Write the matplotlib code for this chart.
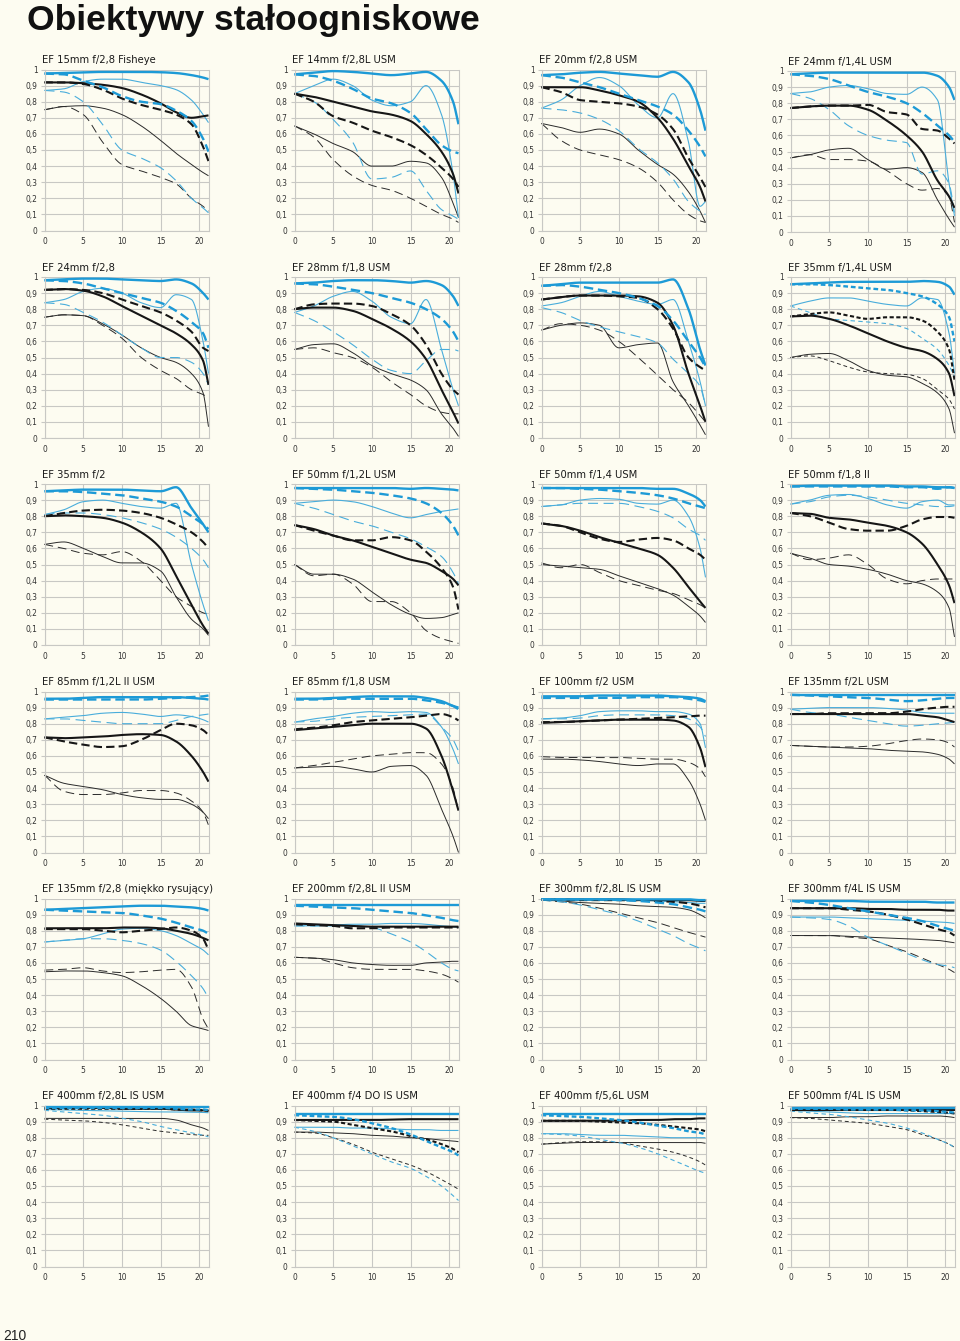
import numpy as np
import matplotlib
matplotlib.use('Agg')
import matplotlib.pyplot as plt
from matplotlib import font_manager

# image height positions (mm from centre) where the curves were read
X = [0, 2.5, 5, 7.5, 10, 12.5, 15, 17, 19, 20.5, 21.2]

# order in every lens list:
# blue 10 S, blue 10 M, blue 30 S, blue 30 M, black 10 S, black 10 M, black 30 S, black 30 M
ef15_28 = [
    [0.975, 0.978, 0.982, 0.985, 0.985, 0.985, 0.983, 0.978, 0.965, 0.95, 0.94],
    [0.975, 0.97, 0.93, 0.89, 0.835, 0.80, 0.785, 0.745, 0.68, 0.57, 0.49],
    [0.87, 0.88, 0.925, 0.94, 0.94, 0.92, 0.90, 0.875, 0.81, 0.72, 0.67],
    [0.87, 0.86, 0.80, 0.66, 0.50, 0.45, 0.39, 0.31, 0.20, 0.14, 0.11],
    [0.92, 0.92, 0.915, 0.905, 0.885, 0.845, 0.79, 0.735, 0.70, 0.71, 0.715],
    [0.92, 0.92, 0.91, 0.875, 0.82, 0.78, 0.75, 0.72, 0.66, 0.52, 0.43],
    [0.75, 0.77, 0.775, 0.76, 0.72, 0.65, 0.56, 0.48, 0.41, 0.36, 0.34],
    [0.75, 0.77, 0.72, 0.55, 0.41, 0.37, 0.33, 0.29, 0.20, 0.15, 0.12],
]
ef14_28 = [
    [0.97, 0.98, 0.99, 0.985, 0.975, 0.965, 0.975, 0.985, 0.93, 0.80, 0.66],
    [0.97, 0.96, 0.93, 0.88, 0.82, 0.79, 0.73, 0.63, 0.53, 0.49, 0.48],
    [0.85, 0.90, 0.94, 0.90, 0.81, 0.775, 0.80, 0.90, 0.72, 0.35, 0.08],
    [0.85, 0.80, 0.69, 0.55, 0.32, 0.33, 0.37, 0.25, 0.13, 0.09, 0.07],
    [0.85, 0.83, 0.80, 0.77, 0.74, 0.72, 0.68, 0.60, 0.49, 0.35, 0.23],
    [0.85, 0.80, 0.71, 0.67, 0.62, 0.58, 0.53, 0.47, 0.39, 0.32, 0.27],
    [0.65, 0.60, 0.54, 0.49, 0.40, 0.40, 0.43, 0.42, 0.33, 0.17, 0.08],
    [0.65, 0.58, 0.44, 0.34, 0.28, 0.25, 0.20, 0.15, 0.10, 0.07, 0.05],
]
ef20_28 = [
    [0.965, 0.97, 0.98, 0.985, 0.975, 0.965, 0.955, 0.985, 0.92, 0.75, 0.62],
    [0.965, 0.95, 0.92, 0.89, 0.85, 0.81, 0.77, 0.72, 0.62, 0.52, 0.46],
    [0.76, 0.81, 0.90, 0.95, 0.90, 0.78, 0.70, 0.85, 0.55, 0.15, 0.18],
    [0.76, 0.75, 0.73, 0.69, 0.62, 0.51, 0.42, 0.32, 0.18, 0.12, 0.10],
    [0.89, 0.89, 0.89, 0.87, 0.84, 0.80, 0.70, 0.57, 0.40, 0.27, 0.18],
    [0.89, 0.86, 0.81, 0.80, 0.79, 0.77, 0.72, 0.63, 0.45, 0.33, 0.27],
    [0.665, 0.64, 0.61, 0.63, 0.60, 0.50, 0.41, 0.35, 0.24, 0.12, 0.05],
    [0.665, 0.56, 0.50, 0.47, 0.44, 0.39, 0.30, 0.19, 0.10, 0.06, 0.05],
]
ef24_14 = [
    [0.98, 0.985, 0.99, 0.99, 0.99, 0.99, 0.99, 0.99, 0.97, 0.90, 0.82],
    [0.98, 0.97, 0.95, 0.91, 0.87, 0.84, 0.80, 0.74, 0.66, 0.60, 0.56],
    [0.86, 0.87, 0.90, 0.91, 0.89, 0.86, 0.855, 0.90, 0.82, 0.30, 0.10],
    [0.86, 0.83, 0.76, 0.66, 0.60, 0.57, 0.555, 0.36, 0.38, 0.30, 0.12],
    [0.77, 0.78, 0.785, 0.785, 0.76, 0.69, 0.60, 0.50, 0.32, 0.22, 0.15],
    [0.77, 0.78, 0.785, 0.785, 0.79, 0.745, 0.73, 0.64, 0.63, 0.58, 0.55],
    [0.46, 0.48, 0.51, 0.52, 0.45, 0.39, 0.40, 0.37, 0.20, 0.08, 0.03],
    [0.46, 0.48, 0.45, 0.45, 0.44, 0.38, 0.30, 0.26, 0.27, 0.22, 0.06],
]
ef24_28 = [
    [0.98, 0.985, 0.99, 0.99, 0.985, 0.98, 0.975, 0.985, 0.96, 0.90, 0.86],
    [0.98, 0.975, 0.96, 0.93, 0.90, 0.87, 0.84, 0.79, 0.72, 0.65, 0.56],
    [0.84, 0.86, 0.91, 0.93, 0.90, 0.84, 0.81, 0.89, 0.86, 0.60, 0.40],
    [0.84, 0.83, 0.78, 0.72, 0.64, 0.56, 0.50, 0.50, 0.47, 0.40, 0.33],
    [0.92, 0.925, 0.915, 0.88, 0.82, 0.76, 0.70, 0.65, 0.58, 0.48, 0.33],
    [0.92, 0.925, 0.92, 0.90, 0.86, 0.82, 0.78, 0.73, 0.66, 0.56, 0.54],
    [0.75, 0.765, 0.76, 0.71, 0.64, 0.56, 0.50, 0.47, 0.40, 0.28, 0.07],
    [0.75, 0.765, 0.76, 0.70, 0.62, 0.50, 0.42, 0.37, 0.30, 0.27, 0.25],
]
ef28_18 = [
    [0.96, 0.965, 0.975, 0.98, 0.98, 0.975, 0.965, 0.975, 0.95, 0.88, 0.82],
    [0.96, 0.955, 0.94, 0.92, 0.90, 0.87, 0.84, 0.80, 0.74, 0.66, 0.60],
    [0.78, 0.82, 0.88, 0.91, 0.85, 0.75, 0.71, 0.86, 0.55, 0.30, 0.20],
    [0.78, 0.73, 0.66, 0.58, 0.49, 0.42, 0.40, 0.48, 0.55, 0.55, 0.54],
    [0.80, 0.81, 0.81, 0.79, 0.74, 0.68, 0.60, 0.49, 0.30, 0.16, 0.09],
    [0.80, 0.83, 0.835, 0.835, 0.82, 0.77, 0.70, 0.58, 0.40, 0.30, 0.27],
    [0.55, 0.58, 0.585, 0.53, 0.45, 0.40, 0.36, 0.30, 0.15, 0.06, 0.01],
    [0.55, 0.56, 0.53, 0.50, 0.44, 0.35, 0.27, 0.20, 0.16, 0.15, 0.15],
]
ef28_28 = [
    [0.945, 0.955, 0.965, 0.965, 0.965, 0.965, 0.965, 0.985, 0.80, 0.55, 0.45],
    [0.945, 0.95, 0.94, 0.92, 0.90, 0.87, 0.82, 0.73, 0.60, 0.50, 0.44],
    [0.82, 0.84, 0.88, 0.91, 0.88, 0.85, 0.83, 0.86, 0.60, 0.35, 0.20],
    [0.81, 0.78, 0.73, 0.69, 0.66, 0.63, 0.59, 0.49, 0.40, 0.32, 0.20],
    [0.86, 0.875, 0.885, 0.885, 0.885, 0.88, 0.84, 0.70, 0.40, 0.20, 0.10],
    [0.86, 0.875, 0.885, 0.885, 0.88, 0.87, 0.80, 0.68, 0.50, 0.44, 0.42],
    [0.67, 0.70, 0.715, 0.70, 0.56, 0.58, 0.59, 0.35, 0.20, 0.08, 0.02],
    [0.67, 0.71, 0.70, 0.67, 0.60, 0.50, 0.39, 0.30, 0.22, 0.14, 0.10],
]
ef35_14 = [
    [0.955, 0.96, 0.965, 0.97, 0.97, 0.97, 0.97, 0.975, 0.97, 0.94, 0.89],
    [0.955, 0.955, 0.95, 0.94, 0.93, 0.92, 0.90, 0.88, 0.83, 0.75, 0.60],
    [0.82, 0.85, 0.87, 0.87, 0.85, 0.83, 0.82, 0.87, 0.86, 0.65, 0.40],
    [0.82, 0.78, 0.74, 0.73, 0.72, 0.71, 0.68, 0.62, 0.55, 0.45, 0.38],
    [0.755, 0.76, 0.74, 0.70, 0.65, 0.60, 0.56, 0.54, 0.49, 0.40, 0.26],
    [0.755, 0.77, 0.78, 0.76, 0.74, 0.75, 0.75, 0.73, 0.66, 0.55, 0.36],
    [0.50, 0.52, 0.525, 0.48, 0.42, 0.39, 0.38, 0.34, 0.28, 0.18, 0.03],
    [0.50, 0.51, 0.48, 0.44, 0.41, 0.40, 0.395, 0.37, 0.30, 0.24, 0.18],
]
ef35_2 = [
    [0.955, 0.96, 0.965, 0.965, 0.965, 0.96, 0.955, 0.98, 0.85, 0.75, 0.70],
    [0.955, 0.955, 0.95, 0.94, 0.93, 0.91, 0.89, 0.86, 0.80, 0.75, 0.72],
    [0.81, 0.84, 0.89, 0.90, 0.88, 0.86, 0.85, 0.88, 0.50, 0.25, 0.15],
    [0.81, 0.82, 0.82, 0.81, 0.79, 0.76, 0.72, 0.67, 0.60, 0.53, 0.48],
    [0.80, 0.805, 0.80, 0.79, 0.76, 0.70, 0.60, 0.43, 0.25, 0.12, 0.07],
    [0.80, 0.82, 0.835, 0.84, 0.835, 0.82, 0.79, 0.75, 0.70, 0.64, 0.60],
    [0.625, 0.64, 0.60, 0.55, 0.51, 0.51, 0.46, 0.30, 0.16, 0.10, 0.06],
    [0.625, 0.60, 0.57, 0.56, 0.58, 0.52, 0.40, 0.30, 0.24, 0.20, 0.19],
]
ef50_12 = [
    [0.975, 0.975, 0.975, 0.975, 0.975, 0.975, 0.97, 0.975, 0.97, 0.965, 0.96],
    [0.975, 0.97, 0.965, 0.955, 0.945, 0.93, 0.91, 0.88, 0.82, 0.74, 0.68],
    [0.88, 0.89, 0.90, 0.89, 0.86, 0.82, 0.79, 0.81, 0.83, 0.84, 0.845],
    [0.88, 0.85, 0.81, 0.77, 0.74, 0.70, 0.66, 0.61, 0.55, 0.45, 0.38],
    [0.745, 0.72, 0.68, 0.65, 0.61, 0.57, 0.53, 0.51, 0.46, 0.41, 0.37],
    [0.745, 0.71, 0.68, 0.65, 0.65, 0.67, 0.65, 0.58, 0.48, 0.36, 0.22],
    [0.50, 0.44, 0.44, 0.41, 0.33, 0.25, 0.19, 0.165, 0.17, 0.19, 0.20],
    [0.50, 0.43, 0.44, 0.38, 0.27, 0.27, 0.20, 0.09, 0.04, 0.02, 0.01],
]
ef50_14 = [
    [0.975, 0.975, 0.975, 0.975, 0.975, 0.975, 0.97, 0.97, 0.94, 0.90, 0.86],
    [0.975, 0.975, 0.97, 0.965, 0.955, 0.945, 0.93, 0.91, 0.88, 0.86, 0.85],
    [0.86, 0.87, 0.90, 0.91, 0.905, 0.88, 0.875, 0.90, 0.80, 0.60, 0.42],
    [0.86, 0.87, 0.88, 0.88, 0.88, 0.86, 0.83, 0.79, 0.72, 0.68, 0.65],
    [0.755, 0.74, 0.71, 0.67, 0.635, 0.60, 0.56, 0.48, 0.36, 0.27, 0.23],
    [0.755, 0.74, 0.70, 0.66, 0.64, 0.655, 0.665, 0.65, 0.60, 0.56, 0.53],
    [0.50, 0.49, 0.48, 0.47, 0.43, 0.39, 0.35, 0.31, 0.24, 0.18, 0.14],
    [0.51, 0.48, 0.50, 0.45, 0.40, 0.37, 0.34, 0.32, 0.28, 0.25, 0.23],
]
ef50_18 = [
    [0.985, 0.99, 0.99, 0.99, 0.99, 0.99, 0.985, 0.985, 0.98, 0.98, 0.975],
    [0.985, 0.985, 0.985, 0.985, 0.985, 0.985, 0.98, 0.98, 0.97, 0.98, 0.975],
    [0.875, 0.90, 0.93, 0.935, 0.91, 0.87, 0.85, 0.89, 0.90, 0.87, 0.87],
    [0.875, 0.89, 0.92, 0.93, 0.92, 0.90, 0.88, 0.87, 0.86, 0.86, 0.865],
    [0.82, 0.815, 0.79, 0.78, 0.76, 0.74, 0.70, 0.63, 0.50, 0.37, 0.26],
    [0.82, 0.80, 0.76, 0.72, 0.71, 0.71, 0.74, 0.78, 0.795, 0.795, 0.79],
    [0.57, 0.54, 0.50, 0.49, 0.47, 0.44, 0.40, 0.38, 0.33, 0.23, 0.05],
    [0.57, 0.53, 0.54, 0.56, 0.50, 0.41, 0.38, 0.40, 0.41, 0.41, 0.41],
]
ef85_12 = [
    [0.955, 0.955, 0.96, 0.965, 0.965, 0.965, 0.965, 0.965, 0.96, 0.955, 0.95],
    [0.95, 0.95, 0.95, 0.95, 0.95, 0.95, 0.955, 0.96, 0.965, 0.97, 0.975],
    [0.83, 0.84, 0.85, 0.865, 0.87, 0.86, 0.845, 0.855, 0.845, 0.825, 0.81],
    [0.83, 0.83, 0.82, 0.81, 0.80, 0.80, 0.80, 0.82, 0.845, 0.855, 0.86],
    [0.715, 0.71, 0.715, 0.72, 0.73, 0.735, 0.73, 0.69, 0.60, 0.50, 0.44],
    [0.715, 0.69, 0.67, 0.655, 0.66, 0.70, 0.76, 0.80, 0.79, 0.76, 0.73],
    [0.48, 0.43, 0.41, 0.39, 0.36, 0.34, 0.33, 0.33, 0.30, 0.25, 0.21],
    [0.48, 0.38, 0.36, 0.36, 0.37, 0.385, 0.385, 0.37, 0.32, 0.25, 0.17],
]
ef85_18 = [
    [0.955, 0.955, 0.96, 0.965, 0.97, 0.97, 0.97, 0.96, 0.94, 0.91, 0.90],
    [0.95, 0.95, 0.955, 0.955, 0.955, 0.955, 0.955, 0.945, 0.93, 0.91, 0.89],
    [0.81, 0.83, 0.845, 0.865, 0.875, 0.87, 0.875, 0.87, 0.78, 0.64, 0.55],
    [0.81, 0.815, 0.83, 0.84, 0.845, 0.85, 0.855, 0.86, 0.78, 0.70, 0.63],
    [0.76, 0.77, 0.78, 0.79, 0.80, 0.80, 0.80, 0.77, 0.60, 0.38, 0.26],
    [0.765, 0.775, 0.79, 0.81, 0.82, 0.83, 0.84, 0.85, 0.86, 0.84, 0.82],
    [0.525, 0.53, 0.535, 0.52, 0.50, 0.535, 0.54, 0.48, 0.27, 0.10, 0.0],
    [0.525, 0.54, 0.56, 0.58, 0.60, 0.61, 0.62, 0.62, 0.55, 0.40, 0.25],
]
ef100_2 = [
    [0.97, 0.97, 0.97, 0.975, 0.975, 0.975, 0.975, 0.97, 0.965, 0.955, 0.94],
    [0.96, 0.96, 0.96, 0.96, 0.96, 0.965, 0.965, 0.965, 0.955, 0.945, 0.935],
    [0.83, 0.835, 0.85, 0.875, 0.88, 0.88, 0.875, 0.875, 0.86, 0.80, 0.65],
    [0.83, 0.83, 0.835, 0.85, 0.855, 0.855, 0.855, 0.85, 0.83, 0.78, 0.72],
    [0.805, 0.81, 0.815, 0.82, 0.825, 0.825, 0.825, 0.82, 0.78, 0.65, 0.53],
    [0.81, 0.81, 0.815, 0.82, 0.825, 0.83, 0.835, 0.84, 0.845, 0.85, 0.85],
    [0.58, 0.58, 0.575, 0.565, 0.55, 0.54, 0.55, 0.55, 0.45, 0.30, 0.20],
    [0.595, 0.59, 0.59, 0.59, 0.59, 0.585, 0.58, 0.58, 0.56, 0.52, 0.47],
]
ef135_2 = [
    [0.98, 0.98, 0.98, 0.98, 0.98, 0.98, 0.98, 0.98, 0.98, 0.98, 0.98],
    [0.98, 0.975, 0.97, 0.965, 0.96, 0.95, 0.94, 0.945, 0.955, 0.96, 0.96],
    [0.89, 0.895, 0.90, 0.90, 0.90, 0.895, 0.885, 0.87, 0.865, 0.865, 0.865],
    [0.89, 0.87, 0.86, 0.84, 0.82, 0.80, 0.785, 0.79, 0.80, 0.805, 0.81],
    [0.86, 0.86, 0.86, 0.86, 0.86, 0.86, 0.86, 0.85, 0.84, 0.82, 0.81],
    [0.86, 0.86, 0.865, 0.865, 0.865, 0.865, 0.875, 0.89, 0.90, 0.905, 0.905],
    [0.665, 0.66, 0.655, 0.65, 0.645, 0.635, 0.63, 0.625, 0.61, 0.58, 0.55],
    [0.665, 0.66, 0.655, 0.655, 0.66, 0.675, 0.695, 0.705, 0.70, 0.68, 0.655],
]
ef135_28 = [
    [0.93, 0.935, 0.94, 0.945, 0.95, 0.955, 0.955, 0.95, 0.945, 0.935, 0.925],
    [0.93, 0.925, 0.92, 0.915, 0.91, 0.895, 0.875, 0.85, 0.82, 0.80, 0.78],
    [0.73, 0.74, 0.75, 0.78, 0.81, 0.815, 0.80, 0.77, 0.72, 0.68, 0.65],
    [0.73, 0.74, 0.75, 0.75, 0.74, 0.72, 0.68, 0.61, 0.52, 0.44, 0.38],
    [0.815, 0.815, 0.815, 0.815, 0.82, 0.82, 0.815, 0.80, 0.78, 0.755, 0.74],
    [0.81, 0.81, 0.81, 0.80, 0.79, 0.80, 0.81, 0.82, 0.80, 0.75, 0.68],
    [0.545, 0.55, 0.55, 0.54, 0.52, 0.46, 0.38, 0.30, 0.21, 0.19, 0.18],
    [0.555, 0.56, 0.57, 0.55, 0.54, 0.545, 0.555, 0.56, 0.45, 0.25, 0.19],
]
ef200_28 = [
    [0.96, 0.96, 0.96, 0.96, 0.96, 0.96, 0.96, 0.96, 0.96, 0.96, 0.96],
    [0.955, 0.95, 0.945, 0.94, 0.93, 0.92, 0.91, 0.895, 0.88, 0.865, 0.86],
    [0.83, 0.83, 0.835, 0.84, 0.84, 0.845, 0.845, 0.84, 0.83, 0.825, 0.82],
    [0.83, 0.83, 0.83, 0.83, 0.82, 0.78, 0.73, 0.67, 0.60, 0.56, 0.55],
    [0.845, 0.84, 0.835, 0.83, 0.825, 0.825, 0.825, 0.825, 0.825, 0.825, 0.825],
    [0.84, 0.835, 0.83, 0.815, 0.815, 0.82, 0.82, 0.82, 0.82, 0.82, 0.82],
    [0.635, 0.63, 0.62, 0.60, 0.59, 0.585, 0.585, 0.60, 0.605, 0.61, 0.61],
    [0.635, 0.63, 0.60, 0.57, 0.56, 0.56, 0.56, 0.55, 0.53, 0.50, 0.48],
]
ef300_28 = [
    [0.995, 0.995, 0.995, 0.995, 0.995, 0.995, 0.995, 0.995, 0.995, 0.99, 0.99],
    [0.995, 0.995, 0.995, 0.995, 0.99, 0.985, 0.975, 0.965, 0.945, 0.93, 0.92],
    [0.99, 0.99, 0.99, 0.99, 0.99, 0.99, 0.985, 0.98, 0.975, 0.97, 0.97],
    [0.99, 0.98, 0.96, 0.93, 0.90, 0.86, 0.81, 0.77, 0.72, 0.69, 0.675],
    [0.995, 0.995, 0.995, 0.995, 0.995, 0.99, 0.99, 0.99, 0.99, 0.985, 0.985],
    [0.995, 0.995, 0.99, 0.99, 0.99, 0.99, 0.985, 0.98, 0.97, 0.955, 0.945],
    [0.99, 0.985, 0.975, 0.97, 0.965, 0.955, 0.95, 0.945, 0.93, 0.90, 0.88],
    [0.99, 0.98, 0.965, 0.94, 0.91, 0.88, 0.85, 0.82, 0.79, 0.77, 0.76],
]
ef300_4 = [
    [0.985, 0.985, 0.985, 0.985, 0.98, 0.98, 0.98, 0.98, 0.975, 0.975, 0.975],
    [0.985, 0.975, 0.96, 0.94, 0.92, 0.90, 0.88, 0.86, 0.83, 0.81, 0.80],
    [0.885, 0.885, 0.885, 0.88, 0.875, 0.87, 0.865, 0.86, 0.855, 0.85, 0.845],
    [0.885, 0.88, 0.87, 0.83, 0.76, 0.71, 0.66, 0.62, 0.59, 0.58, 0.57],
    [0.94, 0.94, 0.94, 0.94, 0.935, 0.935, 0.93, 0.93, 0.93, 0.925, 0.925],
    [0.94, 0.94, 0.94, 0.93, 0.92, 0.90, 0.87, 0.84, 0.81, 0.79, 0.77],
    [0.77, 0.77, 0.77, 0.765, 0.76, 0.755, 0.75, 0.745, 0.74, 0.73, 0.725],
    [0.77, 0.77, 0.77, 0.76, 0.75, 0.71, 0.67, 0.63, 0.59, 0.56, 0.54],
]
ef400_28 = [
    [0.99, 0.99, 0.99, 0.99, 0.99, 0.99, 0.99, 0.99, 0.99, 0.99, 0.99],
    [0.985, 0.985, 0.985, 0.985, 0.985, 0.985, 0.985, 0.98, 0.975, 0.975, 0.97],
    [0.975, 0.972, 0.97, 0.967, 0.965, 0.962, 0.96, 0.96, 0.958, 0.957, 0.955],
    [0.97, 0.96, 0.95, 0.94, 0.92, 0.90, 0.87, 0.85, 0.83, 0.815, 0.805],
    [0.985, 0.985, 0.985, 0.985, 0.98, 0.98, 0.98, 0.975, 0.97, 0.97, 0.965],
    [0.98, 0.98, 0.98, 0.98, 0.98, 0.98, 0.98, 0.975, 0.975, 0.97, 0.97],
    [0.92, 0.92, 0.92, 0.92, 0.92, 0.92, 0.92, 0.91, 0.88, 0.86, 0.845],
    [0.915, 0.91, 0.905, 0.895, 0.88, 0.86, 0.84, 0.83, 0.82, 0.815, 0.815],
]
ef400_4do = [
    [0.945, 0.945, 0.945, 0.945, 0.945, 0.945, 0.945, 0.945, 0.945, 0.945, 0.945],
    [0.94, 0.935, 0.93, 0.915, 0.89, 0.86, 0.82, 0.78, 0.74, 0.71, 0.69],
    [0.865, 0.865, 0.865, 0.86, 0.86, 0.855, 0.85, 0.85, 0.845, 0.845, 0.845],
    [0.865, 0.84, 0.80, 0.75, 0.70, 0.65, 0.61, 0.56, 0.50, 0.44, 0.41],
    [0.91, 0.91, 0.91, 0.91, 0.91, 0.912, 0.915, 0.915, 0.915, 0.915, 0.915],
    [0.91, 0.905, 0.90, 0.88, 0.86, 0.84, 0.81, 0.79, 0.76, 0.73, 0.71],
    [0.835, 0.835, 0.83, 0.825, 0.815, 0.81, 0.80, 0.795, 0.785, 0.78, 0.775],
    [0.835, 0.83, 0.80, 0.76, 0.71, 0.67, 0.63, 0.59, 0.54, 0.50, 0.48],
]
ef400_56 = [
    [0.945, 0.945, 0.945, 0.945, 0.945, 0.945, 0.945, 0.945, 0.945, 0.945, 0.945],
    [0.94, 0.935, 0.93, 0.92, 0.91, 0.895, 0.875, 0.86, 0.84, 0.83, 0.82],
    [0.825, 0.825, 0.82, 0.815, 0.815, 0.81, 0.805, 0.80, 0.80, 0.80, 0.80],
    [0.825, 0.82, 0.81, 0.79, 0.77, 0.74, 0.70, 0.66, 0.62, 0.59, 0.58],
    [0.905, 0.905, 0.905, 0.905, 0.905, 0.91, 0.91, 0.915, 0.915, 0.92, 0.92],
    [0.905, 0.905, 0.905, 0.90, 0.895, 0.89, 0.88, 0.87, 0.86, 0.85, 0.84],
    [0.76, 0.765, 0.77, 0.77, 0.77, 0.77, 0.77, 0.77, 0.77, 0.77, 0.765],
    [0.76, 0.77, 0.775, 0.775, 0.77, 0.75, 0.73, 0.71, 0.68, 0.65, 0.63],
]
ef500_4 = [
    [0.985, 0.985, 0.985, 0.985, 0.985, 0.985, 0.985, 0.985, 0.985, 0.985, 0.985],
    [0.98, 0.98, 0.98, 0.975, 0.975, 0.975, 0.97, 0.97, 0.965, 0.96, 0.955],
    [0.97, 0.965, 0.96, 0.955, 0.95, 0.95, 0.95, 0.95, 0.95, 0.95, 0.95],
    [0.965, 0.955, 0.945, 0.93, 0.91, 0.89, 0.86, 0.83, 0.79, 0.76, 0.74],
    [0.975, 0.975, 0.975, 0.975, 0.975, 0.975, 0.975, 0.975, 0.975, 0.975, 0.975],
    [0.975, 0.975, 0.975, 0.975, 0.975, 0.975, 0.97, 0.965, 0.96, 0.955, 0.95],
    [0.925, 0.925, 0.925, 0.93, 0.93, 0.935, 0.935, 0.935, 0.935, 0.93, 0.925],
    [0.925, 0.92, 0.91, 0.90, 0.89, 0.87, 0.85, 0.82, 0.79, 0.76, 0.74],
]

lenses = [ef15_28, ef14_28, ef20_28, ef24_14,
          ef24_28, ef28_18, ef28_28, ef35_14,
          ef35_2, ef50_12, ef50_14, ef50_18,
          ef85_12, ef85_18, ef100_2, ef135_2,
          ef135_28, ef200_28, ef300_28, ef300_4,
          ef400_28, ef400_4do, ef400_56, ef500_4]
titles = ['EF 15mm f/2,8 Fisheye', 'EF 14mm f/2,8L USM', 'EF 20mm f/2,8 USM', 'EF 24mm f/1,4L USM',
          'EF 24mm f/2,8', 'EF 28mm f/1,8 USM', 'EF 28mm f/2,8', 'EF 35mm f/1,4L USM',
          'EF 35mm f/2', 'EF 50mm f/1,2L USM', 'EF 50mm f/1,4 USM', 'EF 50mm f/1,8 II',
          'EF 85mm f/1,2L II USM', 'EF 85mm f/1,8 USM', 'EF 100mm f/2 USM', 'EF 135mm f/2L USM',
          'EF 135mm f/2,8 (miękko rysujący)', 'EF 200mm f/2,8L II USM', 'EF 300mm f/2,8L IS USM',
          'EF 300mm f/4L IS USM',
          'EF 400mm f/2,8L IS USM', 'EF 400mm f/4 DO IS USM', 'EF 400mm f/5,6L USM', 'EF 500mm f/4L IS USM']
short_dash = {7, 20, 21, 22, 23}

BG = '#fdfcf1'
BLUE = '#1d9ad6'
LBLUE = '#49addb'
GRID = '#c8c8c4'

# pick a condensed face for the small labels if one is installed
fonts = font_manager.fontManager.ttflist
names = {f.name for f in fonts}
if 'Liberation Sans Narrow' in names:
    cond = dict(family=['Liberation Sans Narrow', 'DejaVu Sans'], fontstretch='normal')
    tsize = 10
elif any(f.name == 'DejaVu Sans' and f.stretch == 'condensed' for f in fonts):
    cond = dict(family=['DejaVu Sans'], fontstretch='condensed')
    tsize = 8
else:
    cond = dict(family=['Roboto', 'DejaVu Sans'], fontstretch='normal')
    tsize = 7.6


def pchip(xs, ys, n=300):
    x = np.asarray(xs, float)
    y = np.asarray(ys, float)
    h = np.diff(x)
    d = np.diff(y) / h
    m = np.zeros_like(y)
    for i in range(1, len(y) - 1):
        if d[i - 1] * d[i] > 0:
            w1 = 2 * h[i] + h[i - 1]
            w2 = h[i] + 2 * h[i - 1]
            m[i] = (w1 + w2) / (w1 / d[i - 1] + w2 / d[i])
    m[0] = d[0]
    m[-1] = d[-1]
    xx = np.linspace(x[0], x[-1], n)
    k = np.clip(np.searchsorted(x, xx) - 1, 0, len(x) - 2)
    t = (xx - x[k]) / h[k]
    h00 = 2 * t**3 - 3 * t**2 + 1
    h10 = t**3 - 2 * t**2 + t
    h01 = -2 * t**3 + 3 * t**2
    h11 = t**3 - t**2
    yy = h00 * y[k] + h10 * h[k] * m[k] + h01 * y[k + 1] + h11 * h[k] * m[k + 1]
    return xx, np.clip(yy, 0, 1)


fig = plt.figure(figsize=(9.6, 13.41), dpi=100, facecolor=BG)
W, H = 960.0, 1341.0

fig.text(27 / W, 1 - 30 / H, 'Obiektywy stałoogniskowe', fontsize=25.5, fontweight='bold',
         family='Liberation Sans', color='#111111', ha='left', va='baseline')
fig.text(3 / W, 1 - 1340 / H, '210', fontsize=10, family='Liberation Sans',
         color='#222222', ha='left', va='baseline')

col_x = [44.5, 294.5, 541.5, 790.5]
row_y = [69.5, 277, 484, 691.5, 898.5, 1105.5]
ax_w, ax_h = 164.0, 161.0

# thin black, thin blue, thick black, thick blue
draw_order = [6, 7, 2, 3, 4, 5, 0, 1]

for idx, (curves, title) in enumerate(zip(lenses, titles)):
    r, c = divmod(idx, 4)
    top = row_y[r] + (1.5 if idx == 3 else 0)
    ax = fig.add_axes([col_x[c] / W, 1 - (top + ax_h) / H, ax_w / W, ax_h / H])
    ax.set_facecolor(BG)
    ax.set_xlim(0, 21.2)
    ax.set_ylim(0, 1)
    ax.set_xticks([0, 5, 10, 15, 20])
    ax.set_yticks(np.round(np.arange(0, 1.01, 0.1), 1))
    ax.set_yticklabels(['0'] + ['0,%d' % i for i in range(1, 10)] + ['1'])
    ax.grid(True, color=GRID, lw=0.8)
    ax.set_axisbelow(True)
    for s in ax.spines.values():
        s.set_color(GRID)
        s.set_linewidth(0.8)
    ax.spines['top'].set_visible(False)
    ax.tick_params(axis='y', length=3, width=0.8, color=GRID, labelsize=6, labelcolor='#333333', pad=2)
    ax.tick_params(axis='x', length=0, labelsize=6, labelcolor='#333333', pad=5)
    for lab in ax.get_xticklabels() + ax.get_yticklabels():
        lab.set_family(cond['family'])
        lab.set_fontstretch(cond['fontstretch'])

    sd = idx in short_dash
    for j in draw_order:
        blue = j < 4
        thick = (j % 4) < 2
        dashed = j % 2 == 1
        color = (BLUE if thick else LBLUE) if blue else ('#161616' if thick else '#2a2a2a')
        lw = (1.7 if blue else 1.5) if thick else (0.8 if blue else 0.7)
        xx, yy = pchip(X, curves[j])
        line, = ax.plot(xx, yy, color=color, lw=lw, solid_capstyle='butt', clip_on=False)
        if dashed:
            if thick:
                line.set_dashes((2, 1.2) if sd else (4, 2))
            else:
                line.set_dashes((4, 3) if sd else (9, 5))
    ax.text(-0.015, 1.025, title, transform=ax.transAxes, ha='left', va='bottom',
            fontsize=tsize, color='#1a1a1a', **cond)

fig.savefig('out.png', dpi=100, facecolor=BG)
